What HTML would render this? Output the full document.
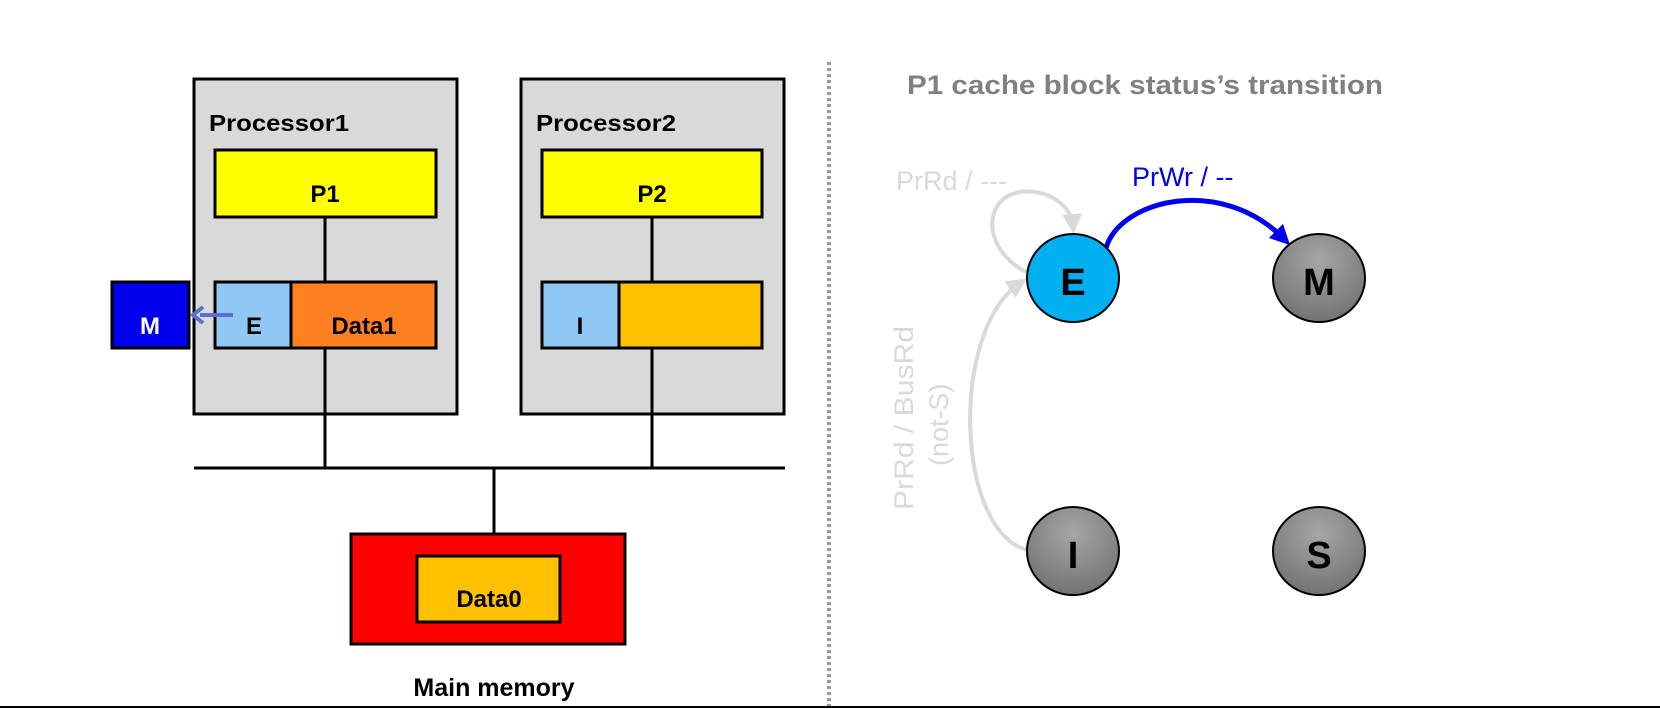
<!DOCTYPE html>
<html><head><meta charset="utf-8"><style>
html,body{margin:0;padding:0;background:#fff;}
svg{display:block;}
text{font-family:"Liberation Sans",sans-serif;}
</style></head><body>
<svg width="1660" height="709" viewBox="0 0 1660 709" xmlns="http://www.w3.org/2000/svg">
<defs>
<radialGradient id="g" cx="50%" cy="30%" r="70%">
<stop offset="0" stop-color="#a6a6a6"/><stop offset="1" stop-color="#737373"/>
</radialGradient>
<marker id="ab" markerWidth="4" markerHeight="4" refX="2" refY="2" orient="auto" markerUnits="strokeWidth"><path d="M0,0 L4,2 L0,4 z" fill="#0000ee"/></marker>
<marker id="ag" markerWidth="5" markerHeight="5" refX="3" refY="2.5" orient="auto" markerUnits="strokeWidth"><path d="M0,0 L5,2.5 L0,5 z" fill="#d9d9d9"/></marker>
</defs>
<rect x="194" y="79" width="263" height="335" fill="#d9d9d9" stroke="#000" stroke-width="3"/>
<rect x="521" y="79" width="263" height="335" fill="#d9d9d9" stroke="#000" stroke-width="3"/>
<text x="209" y="131" font-size="23" font-weight="bold" textLength="140" lengthAdjust="spacingAndGlyphs">Processor1</text>
<text x="536" y="131" font-size="23" font-weight="bold" textLength="140" lengthAdjust="spacingAndGlyphs">Processor2</text>
<line x1="325" y1="217" x2="325" y2="468" stroke="#000" stroke-width="3"/>
<line x1="652" y1="217" x2="652" y2="468" stroke="#000" stroke-width="3"/>
<line x1="194" y1="468" x2="785" y2="468" stroke="#000" stroke-width="3"/>
<line x1="494" y1="468" x2="494" y2="533" stroke="#000" stroke-width="3"/>
<rect x="215" y="150" width="221" height="67" fill="#ffff00" stroke="#000" stroke-width="3"/>
<rect x="542" y="150" width="220" height="67" fill="#ffff00" stroke="#000" stroke-width="3"/>
<text x="325" y="202" font-size="24" font-weight="bold" text-anchor="middle">P1</text>
<text x="652" y="202" font-size="24" font-weight="bold" text-anchor="middle">P2</text>
<rect x="215" y="282" width="76" height="66" fill="#8fc8f5" stroke="#000" stroke-width="3"/>
<rect x="291" y="282" width="145" height="66" fill="#ff8020" stroke="#000" stroke-width="3"/>
<rect x="542" y="282" width="77" height="66" fill="#8fc8f5" stroke="#000" stroke-width="3"/>
<rect x="619" y="282" width="143" height="66" fill="#ffc000" stroke="#000" stroke-width="3"/>
<text x="254" y="334" font-size="24" font-weight="bold" text-anchor="middle">E</text>
<text x="364" y="334" font-size="24" font-weight="bold" text-anchor="middle">Data1</text>
<text x="580" y="334" font-size="24" font-weight="bold" text-anchor="middle">I</text>
<rect x="112" y="282" width="77" height="66" fill="#0000ee" stroke="#000" stroke-width="3"/>
<text x="150" y="334" font-size="24" font-weight="bold" fill="#fff" text-anchor="middle">M</text>
<line x1="233" y1="315" x2="200" y2="315" stroke="#5a6fd0" stroke-width="4"/>
<path d="M203,307 L193,315 L203,323" fill="none" stroke="#5a6fd0" stroke-width="4"/>
<rect x="351" y="534" width="274" height="110" fill="#ff0000" stroke="#000" stroke-width="3"/>
<rect x="417" y="556" width="143" height="66" fill="#ffc000" stroke="#000" stroke-width="3"/>
<text x="489" y="607" font-size="24" font-weight="bold" text-anchor="middle">Data0</text>
<text x="494" y="696" font-size="25" font-weight="bold" text-anchor="middle">Main memory</text>
<line x1="829" y1="62" x2="829" y2="709" stroke="#999" stroke-width="4" stroke-dasharray="3,3"/>
<line x1="0" y1="707" x2="1660" y2="707" stroke="#000" stroke-width="2"/>
<text x="907" y="94" font-size="27" font-weight="bold" fill="#808080" textLength="476" lengthAdjust="spacingAndGlyphs">P1 cache block status’s transition</text>
<path d="M1026,272 C975,245 985,185 1035,192 C1060,196 1072,212 1073,226" fill="none" stroke="#d9d9d9" stroke-width="4" marker-end="url(#ag)"/>
<path d="M1027,550 C955,530 950,330 1020,283" fill="none" stroke="#d9d9d9" stroke-width="4" marker-end="url(#ag)"/>
<path d="M1106,248 C1120,200 1220,175 1283,238" fill="none" stroke="#0000ee" stroke-width="5" marker-end="url(#ab)"/>
<text x="1132" y="186" font-size="27" fill="#0000ee">PrWr / --</text>
<text x="896" y="190" font-size="27" fill="#d9d9d9">PrRd / ---</text>
<text transform="translate(913,510) rotate(-90)" font-size="27" fill="#d9d9d9" textLength="184" lengthAdjust="spacingAndGlyphs">PrRd / BusRd</text>
<text transform="translate(948,466) rotate(-90)" font-size="27" fill="#d9d9d9">(not-S)</text>
<ellipse cx="1073" cy="278" rx="46" ry="44" fill="#00b0f0" stroke="#000" stroke-width="2"/>
<ellipse cx="1319" cy="278" rx="46" ry="44" fill="url(#g)" stroke="#000" stroke-width="2"/>
<ellipse cx="1073" cy="551" rx="46" ry="44" fill="url(#g)" stroke="#000" stroke-width="2"/>
<ellipse cx="1319" cy="551" rx="46" ry="44" fill="url(#g)" stroke="#000" stroke-width="2"/>
<text x="1073" y="295" font-size="38" font-weight="bold" text-anchor="middle">E</text>
<text x="1319" y="295" font-size="38" font-weight="bold" text-anchor="middle">M</text>
<text x="1073" y="568" font-size="38" font-weight="bold" text-anchor="middle">I</text>
<text x="1319" y="568" font-size="38" font-weight="bold" text-anchor="middle">S</text>
</svg>
</body></html>
